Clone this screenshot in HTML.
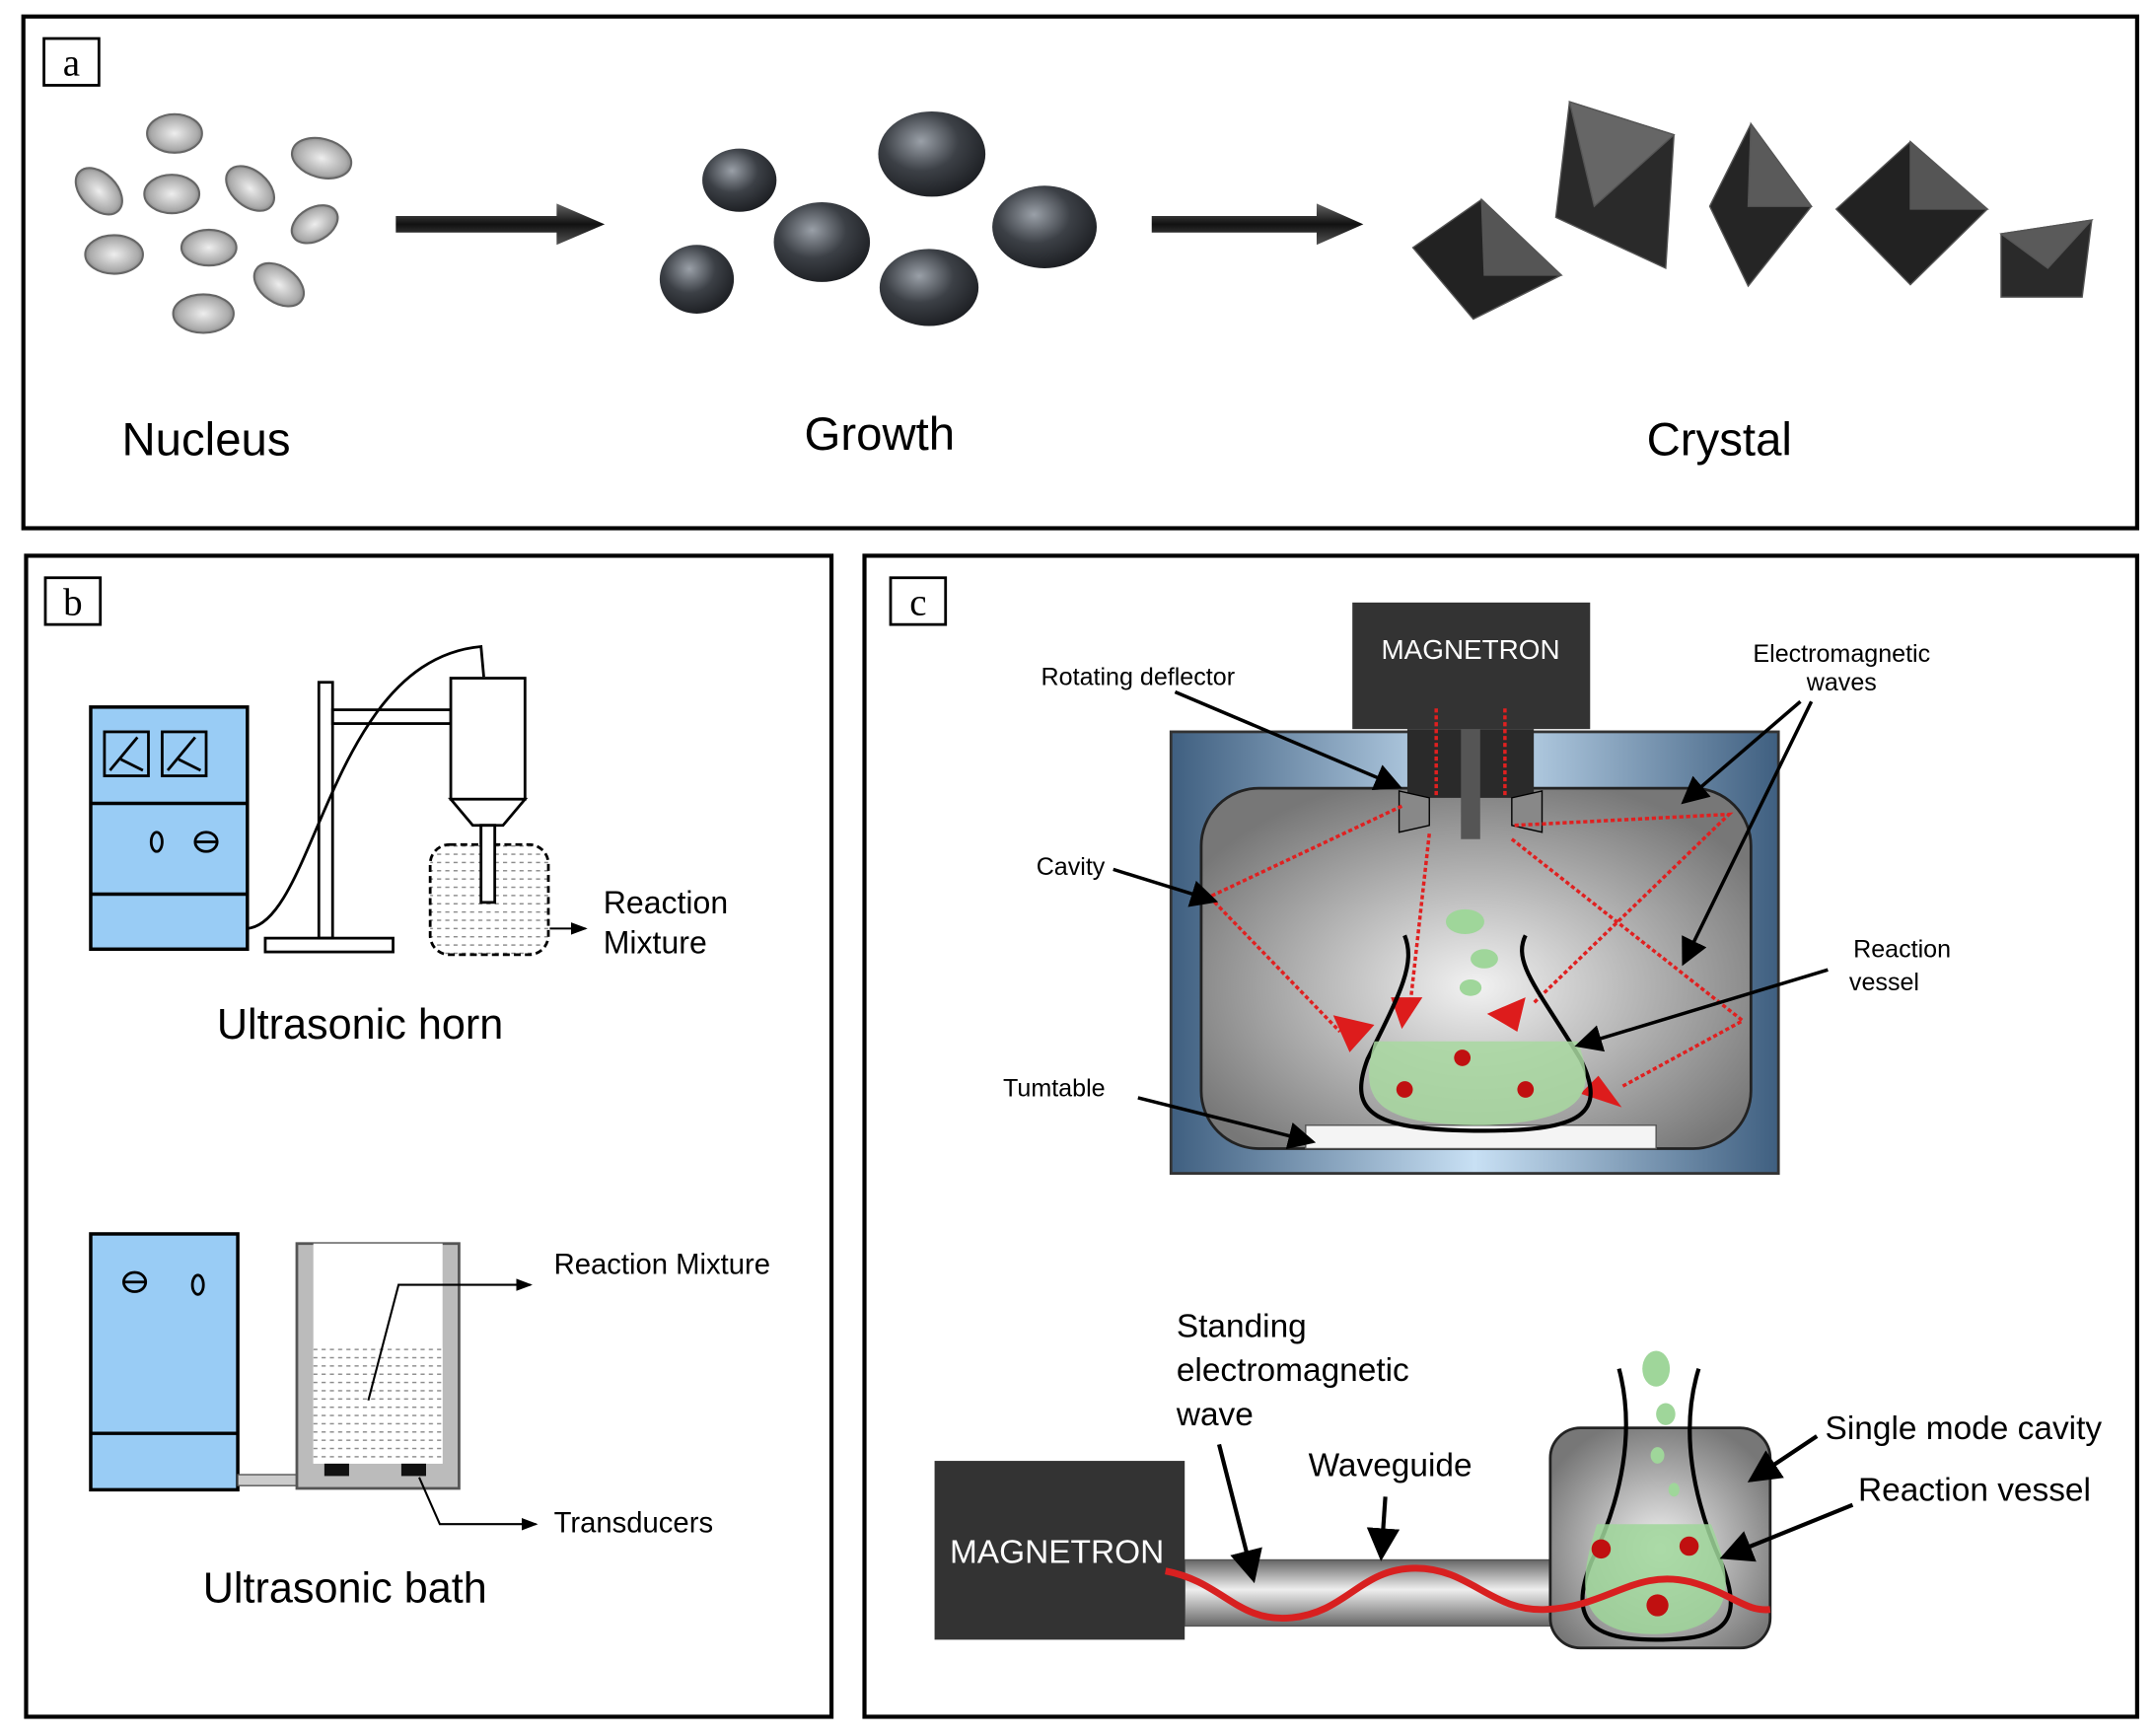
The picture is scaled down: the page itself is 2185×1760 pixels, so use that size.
<!DOCTYPE html>
<html><head><meta charset="utf-8"><style>html,body{margin:0;padding:0;background:#fff}svg{display:block}</style></head>
<body>
<svg width="2185" height="1760" viewBox="0 0 1568 1262" preserveAspectRatio="none" xmlns="http://www.w3.org/2000/svg" font-family="Liberation Sans, sans-serif">
<defs>
<radialGradient id="cav" cx="50%" cy="55%" r="60%"><stop offset="0" stop-color="#f2f2f2"/><stop offset="1" stop-color="#777"/></radialGradient>
<linearGradient id="blu" x1="0" x2="1"><stop offset="0" stop-color="#3f5f80"/><stop offset="0.5" stop-color="#c8e0f4"/><stop offset="1" stop-color="#3f5f80"/></linearGradient>
<linearGradient id="wg" x1="0" y1="0" x2="0" y2="1"><stop offset="0" stop-color="#666"/><stop offset="0.45" stop-color="#eee"/><stop offset="1" stop-color="#666"/></linearGradient>
<linearGradient id="arr" x1="0" y1="0" x2="0" y2="1"><stop offset="0" stop-color="#666"/><stop offset="0.5" stop-color="#111"/><stop offset="1" stop-color="#555"/></linearGradient>
<radialGradient id="blob" cx="40%" cy="35%" r="70%"><stop offset="0" stop-color="#9aa0a8"/><stop offset="0.5" stop-color="#3c4046"/><stop offset="1" stop-color="#1a1c20"/></radialGradient>
<radialGradient id="nuc" cx="50%" cy="50%" r="60%"><stop offset="0" stop-color="#eee"/><stop offset="0.7" stop-color="#aaa"/><stop offset="1" stop-color="#666"/></radialGradient>
<pattern id="dots" width="6" height="6" patternUnits="userSpaceOnUse"><rect width="6" height="6" fill="#fff"/><path d="M0 3h3" stroke="#888" stroke-width="1"/></pattern>
<marker id="ah" markerWidth="8" markerHeight="8" refX="7" refY="4" orient="auto"><path d="M0,0 L8,4 L0,8z" fill="#000"/></marker>
<marker id="ahs" markerWidth="8" markerHeight="8" refX="7" refY="4" orient="auto"><path d="M0,1 L8,4 L0,7z" fill="#000"/></marker>
</defs>
<rect width="1568" height="1262" fill="#fff"/>
<!-- Panel a -->
<rect x="17" y="12" width="1538" height="372" fill="none" stroke="#000" stroke-width="3"/>
<rect x="32" y="28" width="40" height="34" fill="#fff" stroke="#000" stroke-width="2"/>
<text x="52" y="55" font-family="Liberation Serif, serif" font-size="28" text-anchor="middle">a</text>
<g fill="url(#nuc)" stroke="#666" stroke-width="1.5">
<ellipse cx="127" cy="97" rx="20" ry="14"/><ellipse cx="234" cy="115" rx="22" ry="14" transform="rotate(15 234 115)"/>
<ellipse cx="72" cy="139" rx="20" ry="13" transform="rotate(45 72 139)"/><ellipse cx="125" cy="141" rx="20" ry="14"/>
<ellipse cx="182" cy="137" rx="20" ry="13" transform="rotate(40 182 137)"/><ellipse cx="229" cy="163" rx="18" ry="12" transform="rotate(-30 229 163)"/>
<ellipse cx="83" cy="185" rx="21" ry="14"/><ellipse cx="152" cy="180" rx="20" ry="13"/>
<ellipse cx="203" cy="207" rx="20" ry="13" transform="rotate(35 203 207)"/><ellipse cx="148" cy="228" rx="22" ry="14"/>
</g>
<path d="M288 157 H405 V148 L440 163 L405 178 V169 H288Z" fill="url(#arr)"/>
<path d="M838 157 H958 V148 L992 163 L958 178 V169 H838Z" fill="url(#arr)"/>
<g fill="url(#blob)">
<ellipse cx="538" cy="131" rx="27" ry="23"/><ellipse cx="678" cy="112" rx="39" ry="31"/>
<ellipse cx="598" cy="176" rx="35" ry="29"/><ellipse cx="760" cy="165" rx="38" ry="30"/>
<ellipse cx="507" cy="203" rx="27" ry="25"/><ellipse cx="676" cy="209" rx="36" ry="28"/>
</g>
<g stroke="#555" stroke-width="1">
<polygon points="1028,180 1078,145 1136,200 1072,232" fill="#222"/><polygon points="1078,145 1136,200 1080,200" fill="#555"/>
<polygon points="1142,74 1218,98 1212,195 1132,158" fill="#2a2a2a"/><polygon points="1142,74 1218,98 1160,150" fill="#666"/>
<polygon points="1274,90 1318,150 1272,208 1244,150" fill="#252525"/><polygon points="1274,90 1318,150 1272,150" fill="#5a5a5a"/>
<polygon points="1390,103 1446,152 1390,207 1336,152" fill="#222"/><polygon points="1390,103 1446,152 1390,152" fill="#555"/>
<polygon points="1456,170 1522,160 1515,216 1456,216" fill="#2a2a2a"/><polygon points="1456,170 1522,160 1490,195" fill="#5a5a5a"/>
</g>
<text x="150" y="331" font-size="34" text-anchor="middle">Nucleus</text>
<text x="640" y="327" font-size="34" text-anchor="middle">Growth</text>
<text x="1251" y="331" font-size="34" text-anchor="middle">Crystal</text>
<!-- Panel b -->
<rect x="19" y="404" width="586" height="844" fill="none" stroke="#000" stroke-width="3"/>
<rect x="33" y="420" width="40" height="34" fill="#fff" stroke="#000" stroke-width="2"/>
<text x="53" y="447" font-family="Liberation Serif, serif" font-size="28" text-anchor="middle">b</text>
<g stroke="#000" stroke-width="2.5" fill="#99ccf5">
<rect x="66" y="514" width="114" height="176"/><line x1="66" y1="584" x2="180" y2="584"/><line x1="66" y1="650" x2="180" y2="650"/>
</g>
<g fill="none" stroke="#000" stroke-width="2">
<rect x="76" y="532" width="32" height="32"/><path d="M80 560 L100 536 M88 552 L104 560"/>
<rect x="118" y="532" width="32" height="32"/><path d="M122 560 L142 536 M130 552 L146 560"/>
<ellipse cx="114" cy="612" rx="4" ry="7"/><ellipse cx="150" cy="612" rx="8" ry="7"/><line x1="142" y1="612" x2="158" y2="612"/>
<rect x="193" y="682" width="93" height="10"/><rect x="232" y="496" width="10" height="186"/>
<rect x="242" y="516" width="86" height="10"/>
<path d="M180 675 C 230 670, 240 480, 350 470 L352 492"/>
<rect x="328" y="493" width="54" height="88" fill="#fff"/>
<path d="M328 581 L382 581 L366 600 L344 600Z" fill="#fff"/>
<rect x="350" y="600" width="10" height="56" fill="#fff"/>
</g>
<rect x="313" y="614" width="86" height="80" rx="14" fill="url(#dots)" stroke="#000" stroke-width="2" stroke-dasharray="5 3"/>
<rect x="350" y="600" width="10" height="56" fill="#fff" stroke="#000" stroke-width="2"/>
<line x1="400" y1="675" x2="426" y2="675" stroke="#000" stroke-width="1.5" marker-end="url(#ahs)"/>
<text x="439" y="664" font-size="23">Reaction</text><text x="439" y="693" font-size="23">Mixture</text>
<text x="262" y="755" font-size="31" text-anchor="middle">Ultrasonic horn</text>
<g stroke="#000" stroke-width="2.5" fill="#99ccf5"><rect x="66" y="897" width="107" height="186"/><line x1="66" y1="1042" x2="173" y2="1042"/></g>
<g fill="none" stroke="#000" stroke-width="2"><ellipse cx="98" cy="932" rx="8" ry="7"/><line x1="90" y1="932" x2="106" y2="932"/><ellipse cx="144" cy="934" rx="4" ry="7"/></g>
<rect x="173" y="1072" width="44" height="8" fill="#ccc" stroke="#555"/>
<rect x="216" y="904" width="118" height="178" fill="#bbb" stroke="#555" stroke-width="2"/>
<rect x="228" y="904" width="94" height="160" fill="#fff"/>
<rect x="228" y="980" width="94" height="84" fill="url(#dots)"/>
<rect x="236" y="1064" width="18" height="9" fill="#111"/><rect x="292" y="1064" width="18" height="9" fill="#111"/>
<path d="M268 1018 L290 934 H386" fill="none" stroke="#000" stroke-width="1.5" marker-end="url(#ahs)"/>
<path d="M305 1074 L320 1108 H390" fill="none" stroke="#000" stroke-width="1.5" marker-end="url(#ahs)"/>
<text x="403" y="926" font-size="21">Reaction Mixture</text>
<text x="403" y="1114" font-size="21">Transducers</text>
<text x="251" y="1165" font-size="31" text-anchor="middle">Ultrasonic bath</text>
<!-- Panel c -->
<rect x="629" y="404" width="926" height="844" fill="none" stroke="#000" stroke-width="3"/>
<rect x="648" y="420" width="40" height="34" fill="#fff" stroke="#000" stroke-width="2"/>
<text x="668" y="447" font-family="Liberation Serif, serif" font-size="28" text-anchor="middle">c</text>
<rect x="852" y="532" width="442" height="321" fill="url(#blu)" stroke="#333" stroke-width="2"/>
<rect x="874" y="573" width="400" height="262" rx="42" fill="url(#cav)" stroke="#222" stroke-width="2"/>
<rect x="950" y="818" width="255" height="17" fill="#f4f4f4" stroke="#555"/>
<rect x="984" y="438" width="173" height="92" fill="#333"/>
<rect x="1024" y="530" width="92" height="50" fill="#2a2a2a"/>
<rect x="1063" y="530" width="14" height="80" fill="#555"/>
<path d="M1018 575 L1040 580 L1040 600 L1018 605Z M1122 575 L1100 580 L1100 600 L1122 605Z" fill="#888" stroke="#000"/>
<text x="1070" y="479" font-size="20" fill="#fff" text-anchor="middle">MAGNETRON</text>
<g fill="none" stroke="#e02020" stroke-width="2.5" stroke-dasharray="3 2">
<path d="M1045 515 V578 M1095 515 V578"/>
<path d="M1020 586 L880 652 L975 750"/>
<path d="M1040 606 L1025 740"/>
<path d="M1102 600 L1258 592 L1115 730"/>
<path d="M1100 610 L1268 742 L1180 790"/>
</g>
<g fill="#dd1c1c">
<polygon points="970,738 1000,745 982,765"/><polygon points="1012,725 1035,725 1020,748"/>
<polygon points="1082,737 1110,725 1104,750"/><polygon points="1150,795 1163,782 1180,805"/>
</g>
<path d="M1022 680 C1030 700, 1020 720, 995 770 C980 810, 1000 822, 1080 822 C1150 822, 1170 810, 1150 770 C1120 720, 1100 700, 1110 680" fill="none" stroke="#000" stroke-width="3"/>
<path d="M1000 757 H1148 C1160 790, 1160 815, 1080 818 C1000 818, 988 800, 1000 757Z" fill="#a8d8a0" opacity="0.85"/>
<g fill="#9fd69a"><ellipse cx="1066" cy="670" rx="14" ry="9"/><ellipse cx="1080" cy="697" rx="10" ry="7"/><ellipse cx="1070" cy="718" rx="8" ry="6"/></g>
<g fill="#c01010"><circle cx="1064" cy="769" r="6"/><circle cx="1022" cy="792" r="6"/><circle cx="1110" cy="792" r="6"/></g>
<g stroke="#000" stroke-width="2.5" fill="none">
<line x1="855" y1="503" x2="1018" y2="572" marker-end="url(#ah)"/>
<line x1="1310" y1="510" x2="1225" y2="583" marker-end="url(#ah)"/>
<line x1="1318" y1="510" x2="1225" y2="700" marker-end="url(#ah)"/>
<line x1="810" y1="632" x2="884" y2="655" marker-end="url(#ah)"/>
<line x1="1330" y1="705" x2="1148" y2="760" marker-end="url(#ah)"/>
<line x1="828" y1="798" x2="955" y2="830" marker-end="url(#ah)"/>
</g>
<g font-size="18" text-anchor="middle">
<text x="828" y="498">Rotating deflector</text>
<text x="1340" y="481">Electromagnetic</text><text x="1340" y="502">waves</text>
<text x="779" y="636">Cavity</text>
<text x="1384" y="696">Reaction</text><text x="1371" y="720">vessel</text>
<text x="767" y="797">Tumtable</text>
</g>
<!-- bottom -->
<rect x="862" y="1134" width="268" height="48" fill="url(#wg)" stroke="#555"/>
<rect x="680" y="1062" width="182" height="130" fill="#333"/>
<text x="769" y="1136" font-size="24" fill="#fff" text-anchor="middle">MAGNETRON</text>
<rect x="1128" y="1038" width="160" height="160" rx="22" fill="url(#cav)" stroke="#222" stroke-width="2"/>
<path d="M1178 995 C1190 1040, 1180 1090, 1158 1135 C1140 1180, 1160 1192, 1205 1192 C1255 1192, 1270 1180, 1252 1135 C1232 1090, 1222 1040, 1236 995" fill="none" stroke="#000" stroke-width="3"/>
<path d="M1162 1108 H1245 C1262 1150, 1265 1185, 1205 1188 C1150 1188, 1145 1160, 1162 1108Z" fill="#9fd69a" opacity="0.85"/>
<g fill="#9fd69a"><ellipse cx="1205" cy="995" rx="10" ry="13"/><ellipse cx="1212" cy="1028" rx="7" ry="8"/><ellipse cx="1206" cy="1058" rx="5" ry="6"/><ellipse cx="1218" cy="1083" rx="4" ry="5"/></g>
<g fill="#c01010"><circle cx="1165" cy="1126" r="7"/><circle cx="1229" cy="1124" r="7"/><circle cx="1206" cy="1167" r="8"/></g>
<path d="M848 1142 C890 1150, 900 1180, 940 1176 C980 1172, 990 1140, 1030 1140 C1070 1140, 1085 1172, 1125 1170 C1170 1168, 1190 1140, 1230 1150 C1260 1158, 1270 1172, 1288 1170" fill="none" stroke="#d82020" stroke-width="5"/>
<g stroke="#000" stroke-width="3" fill="none">
<line x1="887" y1="1050" x2="912" y2="1148" marker-end="url(#ah)"/>
<line x1="1008" y1="1088" x2="1005" y2="1132" marker-end="url(#ah)"/>
<line x1="1322" y1="1044" x2="1274" y2="1076" marker-end="url(#ah)"/>
<line x1="1348" y1="1094" x2="1254" y2="1132" marker-end="url(#ah)"/>
</g>
<g font-size="24">
<text x="856" y="972">Standing</text><text x="856" y="1004">electromagnetic</text><text x="856" y="1036">wave</text>
<text x="952" y="1073">Waveguide</text>
<text x="1328" y="1046">Single mode cavity</text>
<text x="1352" y="1091">Reaction vessel</text>
</g>
</svg>
</body></html>
